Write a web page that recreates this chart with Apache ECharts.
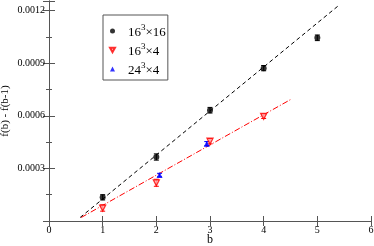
<!DOCTYPE html>
<html><head><meta charset="utf-8">
<script src="https://cdn.jsdelivr.net/npm/echarts@6/dist/echarts.min.js"></script>
<style>html,body{margin:0;padding:0;background:#fff}#c{width:374px;height:246px}</style>
</head><body><div id="c"></div>
<script>
// Data
const black_b = [1, 2, 3, 4, 5];
const black_v = [0.000135, 0.000365, 0.000632, 0.000872, 0.001045];
const black_e = [0.000015, 0.000018, 0.000016, 0.000015, 0.000016];
const red_b = [1, 2, 3, 4];
const red_v = [0.000074, 0.000218, 0.000455, 0.000597];
const red_e = [0.000018, 0.00002, 0.000015, 0.000012];
const blue_b = [2.06, 2.94];
const blue_v = [0.000262, 0.000441];
const blue_e = [0.00001, 0.000012];
const fitBlack = [[0.58, 0.00002], [5.40, 0.00123]];
const fitRed = [[0.60, 0.00002], [4.52, 0.000696]];
const xTicks = [0, 1, 2, 3, 4, 5, 6];
const yTicks = [0.0003, 0.0006, 0.0009, 0.0012];
const names = ['16^3x16', '16^3x4', '24^3x4'];

const pts = (xs, ys) => xs.map((x, i) => [x, ys[i]]);
const errs = (xs, ys, es) => xs.map((x, i) => [x, ys[i] - es[i], ys[i] + es[i]]);
const serif = 'Liberation Serif';
const axisCol = '#555';

function errSeries(data, color) {
  return {
    type: 'custom', data: data, z: 3, silent: true,
    renderItem: function (params, api) {
      const x = api.value(0);
      const lo = api.coord([x, api.value(1)]);
      const hi = api.coord([x, api.value(2)]);
      const w = 2.5;
      return {
        type: 'group', children: [
          { type: 'line', shape: { x1: lo[0], y1: lo[1], x2: hi[0], y2: hi[1] }, style: { stroke: color, lineWidth: 1 } },
          { type: 'line', shape: { x1: lo[0] - w, y1: lo[1], x2: lo[0] + w, y2: lo[1] }, style: { stroke: color, lineWidth: 1 } },
          { type: 'line', shape: { x1: hi[0] - w, y1: hi[1], x2: hi[0] + w, y2: hi[1] }, style: { stroke: color, lineWidth: 1 } }
        ]
      };
    }
  };
}

const legendLabel = {
  '16^3x16': '{a|16}{s|3}{a|×16}',
  '16^3x4': '{a|16}{s|3}{a|×4}',
  '24^3x4': '{a|24}{s|3}{a|×4}'
};

const baseAxis = {
  axisLine: { lineStyle: { color: axisCol, width: 1 } },
  splitLine: { show: false }
};

const option = {
  animation: false,
  backgroundColor: '#fff',
  grid: { left: 49, right: 3, top: 1, bottom: 25, containLabel: false, outerBoundsMode: 'none' },
  legend: {
    orient: 'vertical', left: 103, top: 15,
    data: names,
    borderColor: axisCol, borderWidth: 1,
    padding: [8, 2, 3, 6],
    itemWidth: 5, itemHeight: 5, itemGap: 3,
    formatter: n => legendLabel[n],
    textStyle: {
      fontFamily: serif, fontSize: 13, color: '#000', padding: [0, 0, 0, 8],
      rich: {
        a: { fontFamily: serif, fontSize: 13, lineHeight: 15, color: '#000', padding: [3, 0, 0, 0] },
        s: { fontFamily: serif, fontSize: 9, lineHeight: 9, color: '#000', verticalAlign: 'top' }
      }
    }
  },
  xAxis: [
    Object.assign({}, baseAxis, {
      type: 'value', min: 0, max: 6, interval: 1,
      name: 'b', nameLocation: 'middle', nameGap: 13, nameMoveOverlap: false,
      nameTextStyle: { fontFamily: serif, fontSize: 12, color: '#000' },
      axisTick: { inside: true, length: 5, lineStyle: { color: axisCol } },
      minorTick: { show: false },
      axisLabel: { fontFamily: serif, fontSize: 10, color: '#000', margin: 4 }
    }),
    Object.assign({}, baseAxis, {
      type: 'value', min: 0, max: 6, interval: 1, position: 'top',
      axisTick: { inside: true, length: 5, lineStyle: { color: axisCol } },
      axisLabel: { show: false }
    })
  ],
  yAxis: [
    Object.assign({}, baseAxis, {
      type: 'value', min: 0, max: 0.001255, interval: 0.0003,
      name: 'f(b) - f(b-1)', nameLocation: 'middle', nameGap: 38, nameRotate: 90, nameMoveOverlap: false,
      nameTextStyle: { fontFamily: serif, fontSize: 11, color: '#000' },
      axisTick: { inside: true, length: 6, lineStyle: { color: axisCol } },
      minorTick: { show: true, splitNumber: 2, length: 3, lineStyle: { color: axisCol } },
      axisLabel: {
        fontFamily: serif, fontSize: 10, color: '#000', margin: 4,
        formatter: v => (yTicks.some(t => Math.abs(t - v) < 1e-9) ? v.toFixed(4) : '')
      }
    }),
    Object.assign({}, baseAxis, {
      type: 'value', min: 0, max: 0.001255, interval: 0.0003, position: 'right',
      axisTick: { inside: true, length: 6, lineStyle: { color: axisCol } },
      minorTick: { show: true, splitNumber: 2, length: 3, lineStyle: { color: axisCol } },
      axisLabel: { show: false }
    })
  ],
  series: [
    {
      type: 'line', data: fitBlack, symbol: 'none', silent: true, z: 1,
      lineStyle: { color: '#000', width: 1, type: [4, 3] }
    },
    {
      type: 'line', data: fitRed, symbol: 'none', silent: true, z: 1,
      lineStyle: { color: '#ff0000', width: 1, type: [6, 2, 1, 2] }
    },
    errSeries(errs(black_b, black_v, black_e), '#000'),
    errSeries(errs(red_b, red_v, red_e), '#ff0000'),
    errSeries(errs(blue_b, blue_v, blue_e), '#0000ff'),
    {
      name: names[0], type: 'scatter', data: pts(black_b, black_v), z: 4,
      symbol: 'circle', symbolSize: 6, itemStyle: { color: '#000' }
    },
    {
      name: names[1], type: 'scatter', data: pts(red_b, red_v), z: 4,
      symbol: 'path://M0,0 L10,0 L5,9 Z', symbolSize: [6, 6],
      itemStyle: { color: '#ffb0b0', borderColor: '#ff0000', borderWidth: 1.3 }
    },
    {
      name: names[2], type: 'scatter', data: pts(blue_b, blue_v), z: 4,
      symbol: 'triangle', symbolSize: [6, 6], itemStyle: { color: '#0000ff' }
    }
  ]
};
const chart = echarts.init(document.getElementById('c'), null, { renderer: 'canvas' });
chart.setOption(option);
</script></body></html>
